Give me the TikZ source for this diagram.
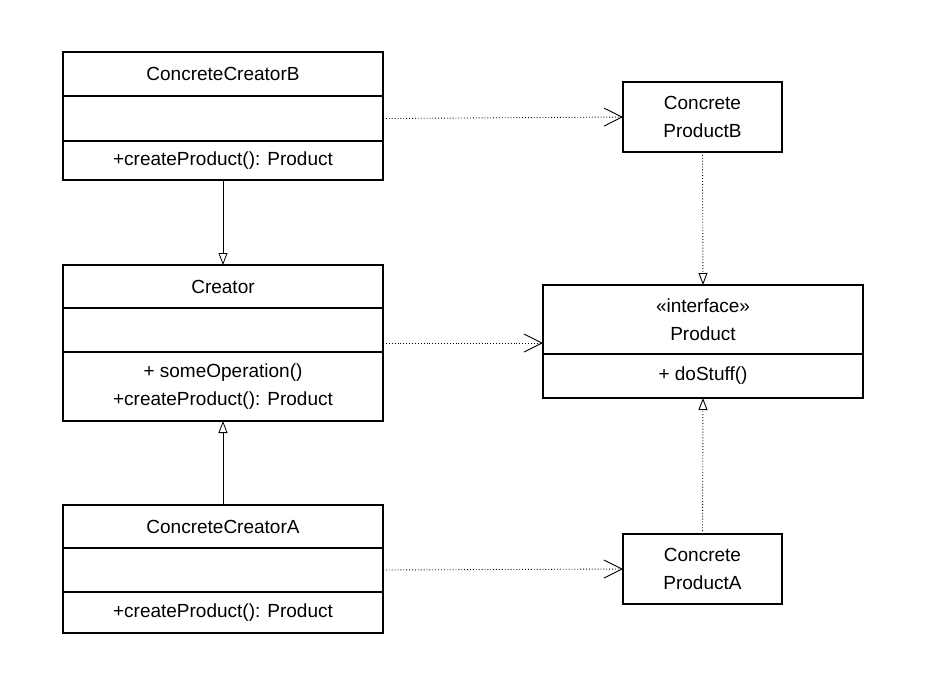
\documentclass[tikz,border=0pt]{standalone}
\usepackage{fontspec}
\setmainfont{Liberation Sans}
\usetikzlibrary{arrows.meta,positioning}

\begin{document}
\begin{tikzpicture}[x=1pt,y=1pt,
  every node/.style={font=\fontsize{19}{28}\selectfont},
  cell/.style={draw, line width=1.1pt, minimum width=320pt, inner sep=0pt, outer sep=0pt, align=center},
  pbox/.style={draw, line width=1.1pt, minimum width=159pt, minimum height=70pt, inner sep=0pt, outer sep=0pt, align=center},
  inh/.style={-{Triangle[open,length=12pt,width=9pt]}, line width=0.8pt},
  dep/.style={-{Straight Barb[length=18pt,width=18pt]}, dotted, line width=0.9pt},
  real/.style={-{Triangle[open,length=12pt,width=9pt]}, dotted, line width=0.9pt}]
\useasboundingbox (0,0) rectangle (926,-686);
% creators
\node[cell, minimum height=44pt] (ccbT) at (223,-74) {ConcreteCreatorB};
\node[cell, minimum height=45pt, below=0pt of ccbT] (ccbA) {};
\node[cell, minimum height=39pt, below=0pt of ccbA] (ccbM) {+createProduct(): Product};
\node[cell, minimum height=43pt] (crT) at (223,-286.5) {Creator};
\node[cell, minimum height=44pt, below=0pt of crT] (crA) {};
\node[cell, minimum height=69pt, below=0pt of crA] (crM) {+ someOperation()\\+createProduct(): Product};
\node[cell, minimum height=43pt] (ccaT) at (223,-526.5) {ConcreteCreatorA};
\node[cell, minimum height=44pt, below=0pt of ccaT] (ccaA) {};
\node[cell, minimum height=41pt, below=0pt of ccaA] (ccaM) {+createProduct(): Product};
% products
\node[pbox] (cpb) at (702.5,-117) {Concrete\\ProductB};
\node[cell, minimum height=69pt] (prT) at (703,-319.5) {<<interface>>\\Product};
\node[cell, minimum height=44pt, below=0pt of prT] (prM) {+ doStuff()};
\node[pbox] (cpa) at (702.5,-569) {Concrete\\ProductA};
% relations
\draw[inh] (ccbM.south) -- (crT.north);
\draw[inh] (ccaT.north) -- (crM.south);
\draw[dep] (ccbA.east) -- (cpb.west);
\draw[dep] (crA.east |- 0,-343) -- (prT.west |- 0,-343);
\draw[dep] (ccaA.east) -- (cpa.west);
\draw[real] (cpb.south) -- (prT.north);
\draw[real] (cpa.north) -- (prM.south);
\end{tikzpicture}
\end{document}
